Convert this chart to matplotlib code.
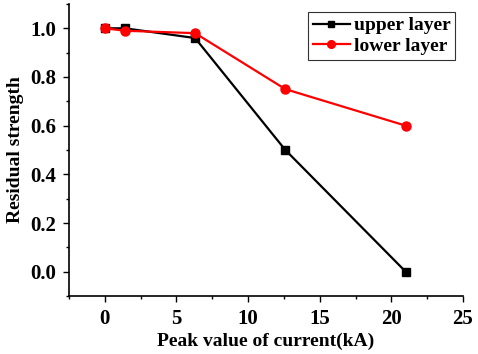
import numpy as np
import matplotlib.pyplot as plt
from matplotlib.ticker import MultipleLocator

# peak current (kA) and residual strength
current = [0, 1.4, 6.3, 12.6, 21]
upper_layer = [1.0, 1.0, 0.96, 0.5, 0.0]
lower_layer = [1.0, 0.99, 0.98, 0.75, 0.6]

plt.rcParams['font.family'] = 'Liberation Serif'
plt.rcParams['font.weight'] = 'bold'

fig = plt.figure(figsize=(4.78, 3.54), dpi=100)
ax = fig.add_axes([0.1444, 0.1638, 0.8242, 0.825])

ax.plot(current, upper_layer, color='black', marker='s', markersize=5.5,
        linewidth=1.6, label='upper layer')
ax.plot(current, lower_layer, color='red', marker='o', markersize=6.5,
        linewidth=1.6, label='lower layer')

ax.set_xlim(-2.5, 25)
ax.set_ylim(-0.1, 1.1)
ax.xaxis.set_major_locator(MultipleLocator(5))
ax.xaxis.set_minor_locator(MultipleLocator(2.5))
ax.yaxis.set_minor_locator(MultipleLocator(0.1))
ax.set_yticks(np.arange(0, 1.01, 0.2))
ax.set_yticklabels(['0.0', '0.2', '0.4', '0.6', '0.8', '1.0'])

ax.spines['top'].set_visible(False)
ax.spines['right'].set_visible(False)
ax.spines['left'].set_linewidth(1.2)
ax.spines['bottom'].set_linewidth(1.2)
ax.tick_params(which='major', length=4, width=1, labelsize=15, pad=5)
ax.tick_params(which='minor', length=2.5, width=1)
for lab in ax.get_xticklabels() + ax.get_yticklabels():
    lab.set_fontweight('bold')

ax.set_xlabel('Peak value of current(kA)', fontsize=14, fontweight='bold',
              labelpad=3)
ax.set_ylabel('Residual strength', fontsize=14, fontweight='bold',
              labelpad=5)

leg = ax.legend(loc='upper right', fontsize=14, fancybox=False,
                edgecolor='#333333', framealpha=1, handlelength=1.9,
                borderpad=0.25, labelspacing=0.15, handletextpad=0.2,
                borderaxespad=0, bbox_to_anchor=(0.98, 0.973),
                markerscale=0.85)
leg.get_frame().set_linewidth(0.8)

fig.savefig('out.png', dpi=100)
